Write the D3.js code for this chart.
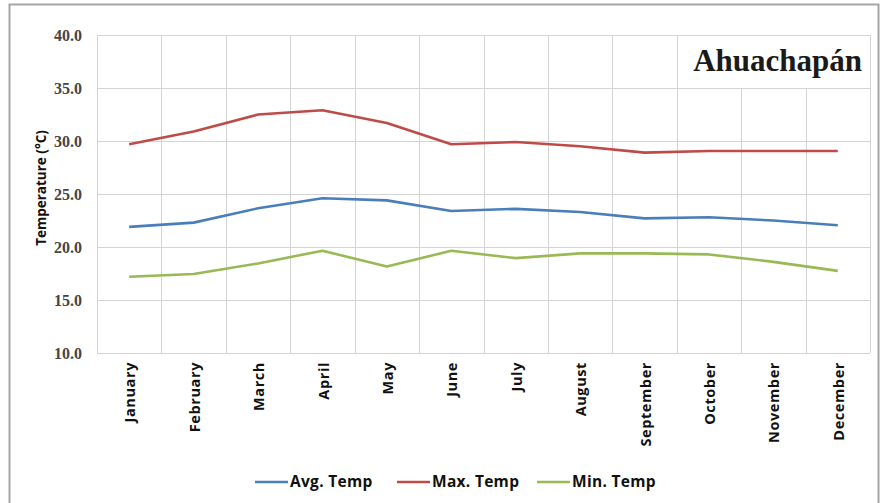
<!DOCTYPE html>
<html><head><meta charset="utf-8">
<script src="https://cdn.jsdelivr.net/npm/d3@7"></script>
<style>body{margin:0;background:#fff}</style>
</head><body>
<script>
const months = ["January","February","March","April","May","June","July","August","September","October","November","December"];
const avgTemp = [21.9,22.3,23.65,24.6,24.4,23.4,23.6,23.3,22.7,22.8,22.5,22.05];
const maxTemp = [29.7,30.9,32.5,32.9,31.7,29.7,29.9,29.5,28.9,29.05,29.05,29.05];
const minTemp = [17.2,17.45,18.45,19.65,18.15,19.65,18.95,19.4,19.4,19.3,18.6,17.75];
const yTicks = [10,15,20,25,30,35,40];
const seriesNames = ["Avg. Temp","Max. Temp","Min. Temp"];
const colors = ["#4a7ebb","#be4b48","#98b954"];
const title = "Ahuachapán";

const W=881,H=503;
const m={l:97,r:11,t:35,b:150};
const svg=d3.select("body").append("svg").attr("width",W).attr("height",H);
svg.append("rect").attr("x",9.5).attr("y",4.5).attr("width",W-12).attr("height",H+10)
  .attr("fill","#fff").attr("stroke","#a6a6a6").attr("stroke-width",2);

const x=d3.scaleBand().domain(months).range([m.l,W-m.r]);
const y=d3.scaleLinear().domain([10,40]).range([H-m.b,m.t]);
const g=svg.append("g");
const grid="#d4d4d4";
g.selectAll(".hg").data(yTicks).enter().append("line")
  .attr("x1",m.l).attr("x2",W-m.r).attr("y1",d=>Math.round(y(d))+0.5).attr("y2",d=>Math.round(y(d))+0.5)
  .attr("stroke",grid);
const vx=months.map(mm=>x(mm)).concat([W-m.r]);
g.selectAll(".vg").data(vx).enter().append("line")
  .attr("x1",d=>Math.round(d)+0.5).attr("x2",d=>Math.round(d)+0.5).attr("y1",m.t).attr("y2",H-m.b)
  .attr("stroke",grid);
const tx0=Math.round(x("October"))+0.5;
g.append("rect").attr("x",tx0).attr("y",Math.round(y(40))+0.5)
  .attr("width",Math.round(W-m.r)-tx0+0.5).attr("height",Math.round(y(35))-Math.round(y(40)))
  .attr("fill","#fff").attr("stroke",grid);
svg.append("text").attr("x",862).attr("y",71).attr("text-anchor","end")
  .attr("font-family","Liberation Serif, serif").attr("font-weight","bold").attr("font-size",31)
  .attr("fill","#1a1a1a").text(title);

const yAxis=d3.axisLeft(y).tickValues(yTicks).tickFormat(d3.format(".1f")).tickSize(0).tickPadding(15);
const ya=svg.append("g").attr("transform",`translate(${m.l},0)`).call(yAxis);
ya.select(".domain").remove();
ya.selectAll("text").attr("font-family","Liberation Serif, serif").attr("font-size",16)
  .attr("font-weight","bold").attr("fill","#454545");

const xAxis=d3.axisBottom(x).tickSize(0).tickPadding(0);
const xa=svg.append("g").attr("transform",`translate(0,${H-m.b})`).call(xAxis);
xa.select(".domain").remove();
xa.selectAll("text").attr("font-family","Open Sans, sans-serif").attr("font-size",14.5)
  .attr("font-weight","bold").attr("fill","#111").attr("letter-spacing","0.6px")
  .attr("text-anchor","end").attr("transform","rotate(-90)")
  .attr("x",-9).attr("y",1).attr("dy","0.35em");

svg.append("text").attr("transform",`translate(46,188) rotate(-90)`).attr("text-anchor","middle")
  .attr("font-family","Open Sans, sans-serif").attr("font-size",13.5).attr("font-weight","bold")
  .attr("fill","#111").text("Temperature (°C)");

const data=[avgTemp,maxTemp,minTemp];
const line=d3.line().x((d,i)=>x(months[i])+x.bandwidth()/2).y(d=>y(d));
svg.selectAll(".ser").data(data).enter().append("path")
  .attr("d",line).attr("fill","none").attr("stroke",(d,i)=>colors[i]).attr("stroke-width",2.6)
  .attr("stroke-linejoin","round");

const legX=[255,397,537];
const lg=svg.selectAll(".lg").data(seriesNames).enter().append("g")
  .attr("transform",(d,i)=>`translate(${legX[i]},482)`);
lg.append("line").attr("x1",0).attr("x2",33).attr("stroke",(d,i)=>colors[i]).attr("stroke-width",2.6);
lg.append("text").attr("x",35).attr("dy","0.35em").attr("font-family","Open Sans, sans-serif")
  .attr("font-size",15.5).attr("font-weight","bold").attr("fill","#111").attr("letter-spacing","0.3px").text(d=>d);
</script>
</body></html>
